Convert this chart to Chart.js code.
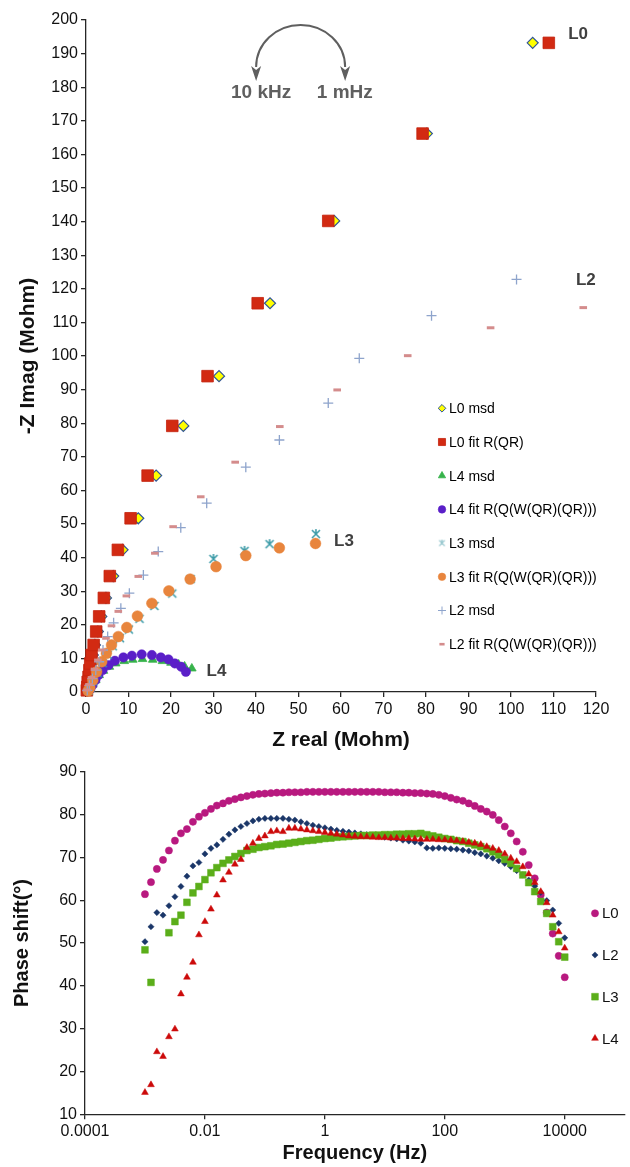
<!DOCTYPE html>
<html>
<head>
<meta charset="utf-8">
<script src="https://cdn.jsdelivr.net/npm/chart.js@4.4.1/dist/chart.umd.min.js"></script>
<style>
  html, body { margin: 0; padding: 0; background: #fff; }
  #wrap { width: 630px; height: 1167px; overflow: hidden; }
  canvas { display: block; }
</style>
</head>
<body>
<div id="wrap">
  <canvas id="nyquist" width="630" height="760"></canvas>
  <canvas id="bode" width="630" height="407"></canvas>
</div>
<script>
// ---- Nyquist plot: [Z real, -Z imag] in Mohm ----
const l0Msd = [[0.3,0.5],[0.5,1.5],[0.6,3],[0.8,4.5],[1.0,6.5],[1.3,8.5],[1.6,11],[2.1,14],[2.8,18],[3.6,22.5],[4.7,28],[6.4,34.5],[8.6,42.3],[12.3,51.7],[16.5,64.4],[22.9,79.2],[31.3,94.0],[43.3,115.7],[58.4,140.2],[80.2,166.2],[105.1,193.2]];
const l0Fit = [[0.2,0.5],[0.3,1.5],[0.4,3],[0.6,4.5],[0.8,6.5],[1.0,8.5],[1.3,11],[1.8,14],[2.4,18],[3.1,22.5],[4.2,28],[5.6,34.5],[7.5,42.3],[10.5,51.7],[14.5,64.4],[20.3,79.2],[28.6,94.0],[40.4,115.7],[57.0,140.2],[79.2,166.2],[108.9,193.2]];
const l4Msd = [[0.5,0.3],[1.0,1.0],[1.6,2.2],[2.3,3.5],[3.1,5.0],[4.1,6.3],[5.5,7.5],[7.0,8.5],[9.0,9.2],[11.0,9.6],[13.3,9.8],[15.7,9.6],[18.0,9.2],[20.0,8.7],[21.8,8.2],[23.2,7.6],[24.9,7.0]];
const l4Fit = [[0.4,0.3],[1.0,0.8],[1.5,2.0],[2.2,3.5],[2.9,5.0],[3.9,6.5],[5.3,8.0],[6.8,9.3],[8.8,10.3],[10.8,10.8],[13.1,11.2],[15.5,11.0],[17.6,10.3],[19.4,9.7],[20.9,8.5],[22.4,7.5],[23.5,6.0]];
const l3Msd = [[0.6,0.3],[1.0,1.2],[1.7,3.2],[2.7,5.7],[3.9,8.6],[5.1,11.1],[6.3,13.6],[8.0,16.0],[10.1,18.6],[12.6,21.8],[16.1,25.6],[20.3,29.3],[24.6,33.6],[30.0,39.6],[37.3,42.0],[43.2,44.0],[54.1,47.0]];
const l3Fit = [[0.5,0.3],[0.9,1.3],[1.6,3.5],[2.5,6.0],[3.7,9.0],[4.8,11.5],[6.0,14.0],[7.6,16.5],[9.6,19.2],[12.1,22.6],[15.5,26.4],[19.5,30.1],[24.5,33.6],[30.6,37.3],[37.6,40.6],[45.5,42.9],[54.0,44.2]];
const l2Msd = [[0.3,0.5],[0.8,2.0],[1.5,4.0],[2.3,6.5],[3.1,9.0],[4.0,12.5],[5.1,16.5],[6.5,20.6],[8.2,24.9],[10.2,29.4],[13.5,34.8],[17.0,41.8],[22.3,48.9],[28.4,56.2],[37.6,66.9],[45.5,75.0],[57.0,86.0],[64.3,99.3],[81.3,112.0],[101.3,122.8]];
const l2Fit = [[0.3,0.6],[0.7,2.2],[1.3,4.3],[2.0,6.8],[2.8,9.5],[3.7,12.5],[4.7,16.0],[6.0,19.7],[7.6,24.0],[9.5,28.6],[12.3,34.4],[16.2,41.3],[20.5,49.2],[27.0,58.1],[35.1,68.4],[45.6,79.0],[59.1,89.9],[75.7,100.1],[95.2,108.4],[117.0,114.4]];

// labels written next to the curves, in data coordinates
const seriesTags = [
  { text: 'L0', x: 115.8, y: 195.8 },
  { text: 'L2', x: 117.6, y: 122.6 },
  { text: 'L3', x: 60.7, y: 44.7 },
  { text: 'L4', x: 30.7, y: 6.3 }
];

// ---- Bode phase plot ----
const freqHz = [
  0.001, 0.00126, 0.00158, 0.002, 0.00251, 0.00316, 0.00398, 0.00501, 0.00631, 0.00794,
  0.01, 0.0126, 0.0158, 0.02, 0.0251, 0.0316, 0.0398, 0.0501, 0.0631, 0.0794,
  0.1, 0.126, 0.158, 0.2, 0.251, 0.316, 0.398, 0.501, 0.631, 0.794,
  1, 1.26, 1.58, 2, 2.51, 3.16, 3.98, 5.01, 6.31, 7.94,
  10, 12.6, 15.8, 20, 25.1, 31.6, 39.8, 50.1, 63.1, 79.4,
  100, 126, 158, 200, 251, 316, 398, 501, 631, 794,
  1000, 1260, 1580, 2000, 2510, 3160, 3980, 5010, 6310, 7940,
  10000
];
const phaseL0 = [
  61.4, 64.2, 67.3, 69.4, 71.6, 73.9, 75.6, 76.6, 78.3, 79.5,
  80.4, 81.3, 82.1, 82.6, 83.2, 83.6, 84.0, 84.3, 84.6, 84.8,
  84.9, 85.0, 85.1, 85.1, 85.2, 85.2, 85.2, 85.3, 85.3, 85.3,
  85.3, 85.3, 85.3, 85.3, 85.3, 85.3, 85.3, 85.3, 85.3, 85.3,
  85.2, 85.2, 85.2, 85.1, 85.1, 85.0, 85.0, 84.9, 84.8, 84.6,
  84.3, 83.9, 83.5, 83.2, 82.6, 82.0, 81.3, 80.7, 79.9, 78.7,
  77.2, 75.6, 73.7, 71.3, 68.2, 65.1, 61.2, 57.1, 52.2, 47.0,
  42.0
];
const phaseL2 = [
  50.3, 53.8, 57.1, 56.5, 58.7, 60.8, 63.2, 65.6, 68.0, 68.8,
  70.8, 72.1, 72.9, 74.2, 75.4, 76.4, 77.2, 77.9, 78.5, 78.9,
  79.1, 79.1, 79.1, 79.1, 78.9, 78.7, 78.3, 77.9, 77.5, 77.2,
  76.9, 76.6, 76.3, 76.1, 75.9, 75.7, 75.5, 75.3, 75.1, 74.9,
  74.7, 74.5, 74.3, 74.0, 73.8, 73.6, 73.3, 72.2, 72.1, 72.2,
  72.1, 72.0, 71.9, 71.7, 71.5, 71.1, 70.8, 70.3, 69.8, 69.2,
  68.6, 67.8, 66.9, 65.9, 64.7, 63.3, 61.8, 59.9, 57.7, 54.6,
  51.2
];
const phaseL3 = [
  48.4, 40.8, null, null, 52.4, 55.0, 56.5, 59.5, 61.7, 63.2,
  64.8, 66.4, 67.6, 68.6, 69.4, 70.2, 70.9, 71.6, 71.9, 72.3,
  72.5, 72.7, 73.0, 73.1, 73.3, 73.5, 73.7, 73.9, 74.0, 74.2,
  74.4, 74.5, 74.7, 74.8, 74.9, 75.0, 75.1, 75.1, 75.2, 75.2,
  75.3, 75.3, 75.4, 75.4, 75.5, 75.5, 75.6, 75.3, 75.0, 74.7,
  74.4, 74.2, 73.9, 73.7, 73.3, 72.9, 72.5, 72.0, 71.3, 70.6,
  69.5, 68.6, 67.4, 65.9, 64.1, 62.0, 59.7, 56.9, 53.8, 50.3,
  46.7
];
const phaseL4 = [
  15.1, 16.9, 24.6, 23.5, 28.1, 29.9, 38.1, 42.0, 45.5, 51.9,
  55.0, 57.9, 61.2, 64.7, 66.5, 68.4, 69.5, 72.3, 73.3, 74.4,
  75.0, 76.0, 76.2, 76.0, 76.8, 76.8, 76.6, 76.4, 76.2, 76.0,
  75.8, 75.6, 75.4, 75.2, 75.0, 74.9, 74.8, 74.8, 74.7, 74.6,
  74.6, 74.5, 74.5, 74.4, 74.4, 74.3, 74.2, 74.2, 74.2, 74.1,
  74.1, 74.0, 73.9, 73.7, 73.5, 73.3, 73.0, 72.5, 72.1, 71.6,
  70.8, 69.8, 69.0, 67.8, 66.1, 64.1, 62.0, 59.4, 56.5, 52.6,
  48.8
];
const freqTicks = [0.0001, 0.01, 1, 100, 10000];

const FONT = "'Liberation Sans', Arial, sans-serif";
Chart.defaults.font.family = FONT;
Chart.defaults.color = '#111';

// excel style asterisk marker
function asterisk(size, color, lw) {
  const c = document.createElement('canvas');
  c.width = c.height = size;
  const g = c.getContext('2d');
  const m = size / 2, r = size / 2 - 1;
  g.strokeStyle = color;
  g.lineWidth = lw;
  g.beginPath();
  g.moveTo(m - r * 0.8, m - r * 0.8); g.lineTo(m + r * 0.8, m + r * 0.8);
  g.moveTo(m + r * 0.8, m - r * 0.8); g.lineTo(m - r * 0.8, m + r * 0.8);
  g.moveTo(m, m - r); g.lineTo(m, m);
  g.stroke();
  return c;
}

const nyquistSeries = [
  { label: 'L0 msd', data: l0Msd, style: 'rectRot', r: 5.5, key: 3.8, fill: '#FFFF00', line: '#2F5597', bw: 1.2 },
  { label: 'L0 fit R(QR)', data: l0Fit, style: 'rect', r: 8.2, key: 5, fill: '#D22A12', line: '#C4230E', bw: 0.8 },
  { label: 'L4 msd', data: l4Msd, style: 'triangle', r: 5, key: 4.2, fill: '#36B34A', line: '#36B34A', bw: 0.8 },
  { label: 'L4 fit R(Q(W(QR)(QR)))', data: l4Fit, style: 'circle', r: 4.7, key: 3.8, fill: '#5A1FC8', line: '#5A1FC8', bw: 0.5 },
  { label: 'L3 msd', data: l3Msd, style: asterisk(12, '#3C9BA8', 1.6), keyStyle: asterisk(9, '#8FC3CB', 1.2), r: 5, key: 4, fill: '#3C9BA8', line: '#3C9BA8', bw: 1.4 },
  { label: 'L3 fit R(Q(W(QR)(QR)))', data: l3Fit, style: 'circle', r: 5.4, key: 3.8, fill: '#E8853D', line: '#E8853D', bw: 0.5 },
  { label: 'L2 msd', data: l2Msd, style: 'cross', r: 5, key: 4, fill: '#8EA4CC', line: '#8EA4CC', bw: 1.3 },
  { label: 'L2 fit R(Q(W(QR)(QR)))', data: l2Fit, style: 'line', r: 3.8, key: 2.6, fill: '#D48C8C', line: '#D48C8C', bw: 3 }
];

const bodeSeries = [
  { label: 'L0', data: phaseL0, style: 'circle', r: 3.6, fill: '#B8197F' },
  { label: 'L2', data: phaseL2, style: 'rectRot', r: 3.1, fill: '#1A3668' },
  { label: 'L3', data: phaseL3, style: 'rect', r: 4.8, fill: '#5BAE1A' },
  { label: 'L4', data: phaseL4, style: 'triangle', r: 3.9, fill: '#CC0A0A' }
];

function axisLook() {
  return {
    border: { display: true, color: '#262626', width: 1.3 },
    grid: { display: true, drawOnChartArea: false, drawTicks: true, tickLength: 5, color: '#262626', lineWidth: 1.3 }
  };
}

const nyquistNotes = {
  id: 'nyquistNotes',
  afterDraw(chart) {
    const { ctx, scales: { x, y } } = chart;
    const px = v => x.getPixelForValue(v), py = v => y.getPixelForValue(v);
    ctx.save();
    // frequency direction arrow
    const cx = px(50.5), cy = py(186), rx = 44.5, ry = 42;
    ctx.strokeStyle = '#5f5f5f';
    ctx.fillStyle = '#5f5f5f';
    ctx.lineWidth = 2;
    ctx.beginPath();
    ctx.ellipse(cx, cy, rx, ry, 0, Math.PI, 2 * Math.PI);
    ctx.stroke();
    [cx - rx, cx + rx].forEach(ax => {
      ctx.beginPath();
      ctx.moveTo(ax - 5, cy - 1);
      ctx.lineTo(ax, cy + 3);
      ctx.lineTo(ax + 5, cy - 1);
      ctx.lineTo(ax, cy + 14);
      ctx.closePath();
      ctx.fill();
    });
    ctx.font = 'bold 19px ' + FONT;
    ctx.textAlign = 'center';
    ctx.textBaseline = 'middle';
    ctx.fillText('10 kHz', px(41.2), py(178.3));
    ctx.fillText('1 mHz', px(60.9), py(178.3));

    ctx.fillStyle = '#404040';
    ctx.font = 'bold 17px ' + FONT;
    seriesTags.forEach(t => ctx.fillText(t.text, px(t.x), py(t.y)));

    // legend inside plot
    ctx.font = '14px ' + FONT;
    ctx.textAlign = 'left';
    nyquistSeries.forEach((s, k) => {
      const ly = 408.3 + k * 33.7;
      ctx.fillStyle = s.fill;
      ctx.strokeStyle = s.line;
      ctx.lineWidth = s.style === 'line' ? 2.6 : Math.min(s.bw, 1);
      Chart.helpers.drawPoint(ctx, { pointStyle: s.keyStyle || s.style, radius: s.key, borderWidth: ctx.lineWidth, rotation: 0 }, 442, ly);
      ctx.fillStyle = '#000';
      ctx.fillText(s.label, 449, ly + 1);
    });
    ctx.restore();
  }
};

new Chart(document.getElementById('nyquist'), {
  type: 'scatter',
  data: {
    datasets: nyquistSeries.map((s, i) => ({
      label: s.label,
      data: s.data.map(p => ({ x: p[0], y: p[1] })),
      pointStyle: s.style,
      pointRadius: s.r,
      pointBackgroundColor: s.fill,
      pointBorderColor: s.line,
      pointBorderWidth: s.bw,
      order: nyquistSeries.length - i,
      clip: false
    }))
  },
  options: {
    responsive: false,
    animation: false,
    devicePixelRatio: 1,
    layout: { padding: { left: 0, right: 34, top: 20, bottom: 0 } },
    plugins: { legend: { display: false }, tooltip: { enabled: false } },
    scales: {
      x: Object.assign(axisLook(), {
        type: 'linear', min: 0, max: 120,
        ticks: { stepSize: 10, font: { size: 16 }, color: '#111', padding: 3, maxRotation: 0, autoSkip: false },
        title: { display: true, text: 'Z real (Mohm)', font: { size: 21, weight: 'bold' }, color: '#111', padding: { top: 0, bottom: 7.4 } },
        afterFit: s => { s.height = 68; s.paddingLeft = 0; s.paddingRight = 0; }
      }),
      y: Object.assign(axisLook(), {
        type: 'linear', min: 0, max: 200,
        ticks: { stepSize: 10, font: { size: 16 }, color: '#111', padding: 3, autoSkip: false },
        title: { display: true, text: '-Z Imag (Mohm)', font: { size: 21, weight: 'bold' }, color: '#111', padding: { top: 16, bottom: 0 } },
        afterFit: s => { s.width = 86; s.paddingTop = 0; s.paddingBottom = 0; }
      })
    }
  },
  plugins: [nyquistNotes]
});

const bodeKey = {
  id: 'bodeKey',
  afterDraw(chart) {
    const { ctx } = chart;
    ctx.save();
    ctx.font = '15px ' + FONT;
    ctx.textAlign = 'left';
    ctx.textBaseline = 'middle';
    bodeSeries.forEach((s, k) => {
      const ly = 153.3 + k * 41.7;
      ctx.fillStyle = s.fill;
      ctx.strokeStyle = s.fill;
      ctx.lineWidth = 0.5;
      Chart.helpers.drawPoint(ctx, { pointStyle: s.style, radius: s.r, borderWidth: 0.5, rotation: 0 }, 595, ly);
      ctx.fillStyle = '#111';
      ctx.fillText(s.label, 602, ly + 1);
    });
    ctx.restore();
  }
};

new Chart(document.getElementById('bode'), {
  type: 'scatter',
  data: {
    datasets: bodeSeries.map((s, i) => ({
      label: s.label,
      data: freqHz.map((f, j) => ({ x: f, y: s.data[j] })).filter(p => p.y !== null),
      pointStyle: s.style,
      pointRadius: s.r,
      pointBackgroundColor: s.fill,
      pointBorderColor: s.fill,
      pointBorderWidth: 0.5,
      order: bodeSeries.length - i,
      clip: false
    }))
  },
  options: {
    responsive: false,
    animation: false,
    devicePixelRatio: 1,
    layout: { padding: { left: 0, right: 0, top: 11.7, bottom: 0 } },
    plugins: { legend: { display: false }, tooltip: { enabled: false } },
    scales: {
      x: Object.assign(axisLook(), {
        type: 'logarithmic', min: 0.0001, max: 100000,
        afterBuildTicks: s => { s.ticks = freqTicks.map(v => ({ value: v })); },
        ticks: { font: { size: 16 }, color: '#111', padding: 3, maxRotation: 0, autoSkip: false,
          callback: v => freqTicks.includes(v) ? String(v) : '' },
        title: { display: true, text: 'Frequency (Hz)', font: { size: 20, weight: 'bold' }, color: '#111', padding: { top: 0, bottom: 2 } },
        afterFit: s => { s.height = 52.7; s.paddingLeft = 0; s.paddingRight = 0; }
      }),
      y: Object.assign(axisLook(), {
        type: 'linear', min: 10, max: 90,
        ticks: { stepSize: 10, font: { size: 16 }, color: '#111', padding: 3, autoSkip: false },
        title: { display: true, text: 'Phase shift(°)', font: { size: 20, weight: 'bold' }, color: '#111', padding: { top: 10, bottom: 0 } },
        afterFit: s => { s.width = 85; s.paddingTop = 0; s.paddingBottom = 0; }
      })
    }
  },
  plugins: [bodeKey]
});
</script>
</body>
</html>
